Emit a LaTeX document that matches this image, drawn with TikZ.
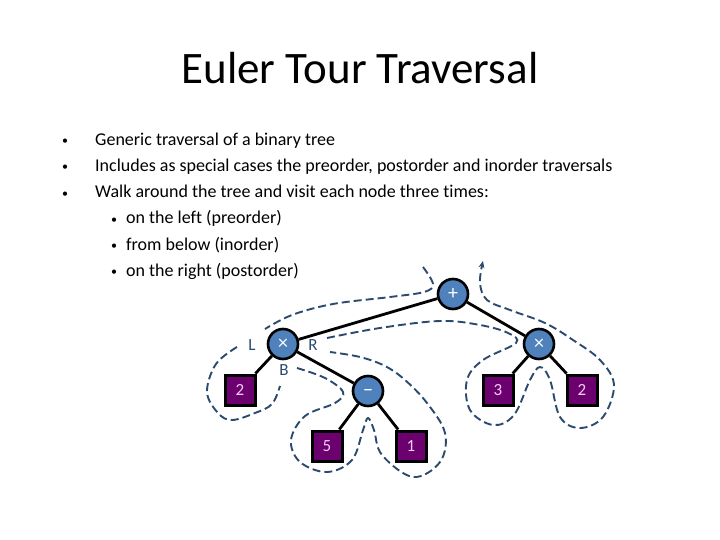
\documentclass[tikz,border=0pt]{standalone}
\usepackage{fontspec}
\setmainfont{Carlito}[Ligatures=NoCommon]
\usetikzlibrary{arrows.meta}
\definecolor{circfill}{RGB}{79,129,189}
\definecolor{sqfill}{RGB}{108,0,110}
\definecolor{sqtext}{RGB}{245,205,245}
\definecolor{tour}{RGB}{44,74,110}
\tikzset{
  inner/.style={circle, draw=black, line width=2.6pt, fill=circfill, minimum size=30pt, inner sep=0pt, text=white, font=\fontsize{20}{22}\selectfont},
  leaf/.style={rectangle, draw=black, line width=3pt, fill=sqfill, minimum size=30pt, inner sep=0pt, text=sqtext, font=\fontsize{17}{19}\selectfont},
  edge/.style={line width=2.8pt, black},
  tourline/.style={tour, line width=1.9pt, dash pattern=on 8pt off 4pt},
  tlabel/.style={text=tour, font=\fontsize{17}{19}\selectfont, inner sep=0pt},
  bodytext/.style={anchor=base west, inner sep=0pt, font=\fontsize{18}{21}\selectfont},
  bul/.style={anchor=base, inner sep=0pt, font=\fontsize{12}{14}\selectfont}
}
\begin{document}
\begin{tikzpicture}[x=1pt,y=-1pt]
\useasboundingbox (0,0) rectangle (720,540);
\fill[white] (0,0) rectangle (720,540);
% title
\node[font=\fontsize{45}{50}\selectfont, inner sep=0pt] (title) at (360,68) {Euler Tour Traversal};
% bullets
\node[bul] (b1) at (65,145) {•};
\node[bodytext] (t1) at (95,146) {Generic traversal of a binary tree};
\node[bul] (b2) at (65,171) {•};
\node[bodytext] (t2) at (95,172) {Includes as special cases the preorder, postorder and inorder traversals};
\node[bul] (b3) at (65,197) {•};
\node[bodytext] (t3) at (95,198) {Walk around the tree and visit each node three times:};
\node[bul] (b4) at (114,223) {•};
\node[bodytext] (t4) at (126,224) {on the left (preorder)};
\node[bul] (b5) at (114,249) {•};
\node[bodytext] (t5) at (126,250) {from below (inorder)};
\node[bul] (b6) at (114,275) {•};
\node[bodytext] (t6) at (126,276) {on the right (postorder)};
% tree nodes
\node[inner] (plus) at (453,294) {+};
\node[inner] (tl) at (283,344) {×};
\node[inner] (tr) at (539,344) {×};
\node[inner] (minus) at (368,391) {\vphantom{+}−};
\node[leaf] (l2) at (240,390) {2};
\node[leaf] (l5) at (327,446) {5};
\node[leaf] (l1) at (411,446) {1};
\node[leaf] (l3) at (498,390) {3};
\node[leaf] (r2) at (582,390) {2};
% edges
\draw[edge] (plus) -- (tl);
\draw[edge] (plus) -- (tr);
\draw[edge] (tl) -- (l2);
\draw[edge] (tl) -- (minus);
\draw[edge] (minus) -- (l5);
\draw[edge] (minus) -- (l1);
\draw[edge] (tr) -- (l3);
\draw[edge] (tr) -- (r2);
% labels
\node[tlabel] (lL) at (252,345) {L};
\node[tlabel] (lR) at (313,345) {R};
\node[tlabel] (lB) at (284,370) {B};
% euler tour
\draw[tourline] plot[smooth, tension=0.6] coordinates {(423,267) (433,284) (424,292) (390,297) (333,304) (292,315) (265,329)};
\draw[tourline] plot[smooth, tension=0.6] coordinates {(237,347) (216,364) (207,392) (218,413) (232,420) (255,413) (272,404) (280,386)};
\draw[tourline] plot[smooth, tension=0.6] coordinates {(297,368) (325,378) (343,392) (335,403) (305,416) (291,440) (300,462) (327,472) (352,460) (363,430) (368,418) (374,430) (382,455) (413,477) (440,462) (445,433) (427,403) (405,380) (385,366) (360,357) (330,352)};
\draw[tourline,-{Stealth[length=7pt,width=6pt]}] plot[smooth, tension=0.6] coordinates {(327,338) (380,328) (440,321) (480,325) (508,333) (516,343) (483,360) (467,380) (470,410) (493,425) (514,415) (530,380) (540,367) (550,380) (560,417) (580,428) (603,417) (614,385) (600,360) (573,340) (545,323) (510,310) (487,300) (480,283) (483,261)};
\end{tikzpicture}
\end{document}
